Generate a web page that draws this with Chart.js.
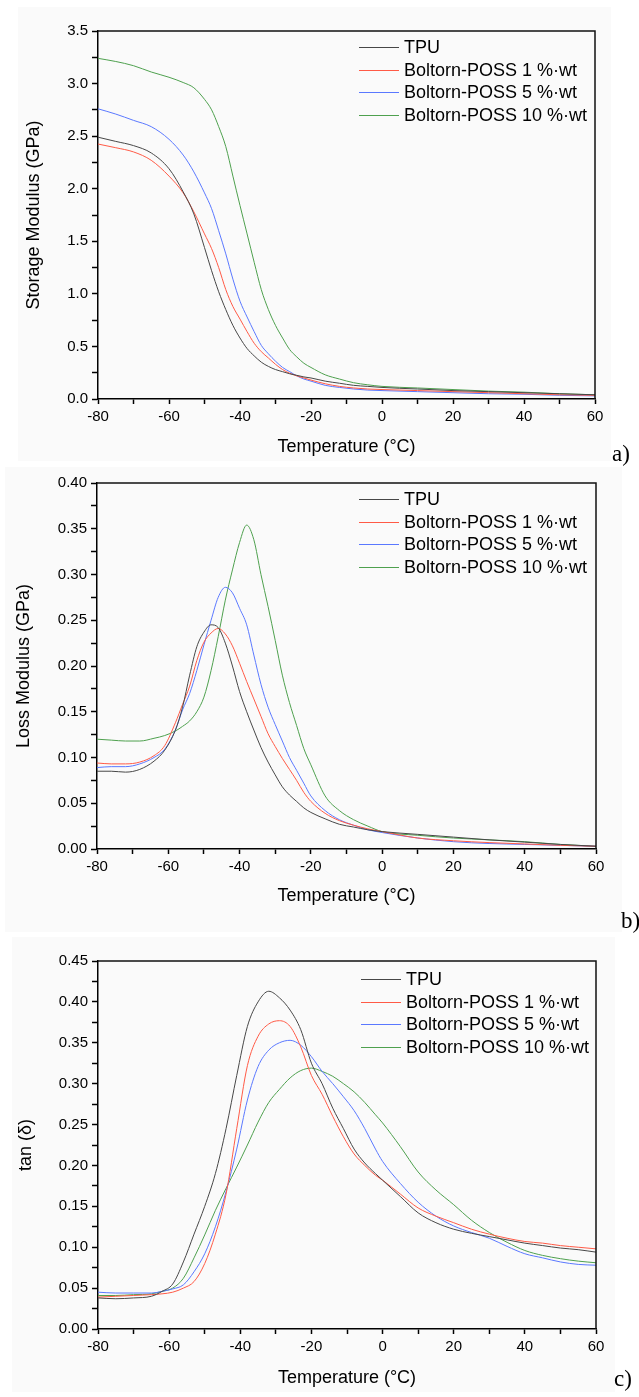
<!DOCTYPE html>
<html>
<head>
<meta charset="utf-8">
<script src="https://cdn.jsdelivr.net/npm/chart.js@4.4.0/dist/chart.umd.min.js"></script>
<style>
  body { margin: 0; background: #fff; width: 639px; height: 1397px; position: relative; overflow: hidden; }
  .panel { position: absolute; background: #fafafa; }
  .tag { position: absolute; font-family: 'Liberation Serif', 'Times New Roman', serif; font-size: 23px; line-height: 1; color: #000; }
  canvas { position: absolute; left: 0; }
</style>
</head>
<body>
<div class="panel" style="left:18px;top:7px;width:593px;height:454px"></div>
<div class="panel" style="left:5px;top:467px;width:617px;height:465px"></div>
<div class="panel" style="left:12px;top:937px;width:603px;height:455px"></div>
<canvas id="chartA" width="639" height="465" style="top:0"></canvas>
<canvas id="chartB" width="639" height="449" style="top:465px"></canvas>
<canvas id="chartC" width="639" height="461" style="top:935px"></canvas>
<div class="tag" style="left:612px;top:442px">a)</div>
<div class="tag" style="left:621px;top:909px">b)</div>
<div class="tag" style="left:614px;top:1367px">c)</div>
<script>
// series names / colours shared by the three panels
const seriesNames = ['TPU', 'Boltorn-POSS 1 %·wt', 'Boltorn-POSS 5 %·wt', 'Boltorn-POSS 10 %·wt'];
const seriesColors = ['#474747', '#ff5a46', '#5a78ff', '#4ea04e'];

// a) storage modulus (GPa)
const tempsA = [-80,-75,-70,-65,-60,-56,-53,-50,-48,-46,-44,-42,-40,-38,-36,-34,-32,-30,-28,-26,-24,-22,-20,-16,-12,-8,-4,0,10,20,30,40,50,60];
const storageTPU = [2.49,2.45,2.41,2.34,2.19,1.97,1.76,1.44,1.22,1.02,0.85,0.70,0.58,0.48,0.41,0.35,0.31,0.28,0.26,0.24,0.225,0.21,0.20,0.17,0.15,0.13,0.12,0.11,0.095,0.08,0.07,0.06,0.05,0.04];
const storageP1 = [2.425,2.39,2.35,2.27,2.12,1.96,1.78,1.57,1.43,1.25,1.04,0.88,0.76,0.64,0.53,0.45,0.39,0.33,0.28,0.245,0.22,0.20,0.18,0.145,0.12,0.105,0.095,0.09,0.08,0.07,0.06,0.05,0.04,0.035];
const storageP5 = [2.76,2.71,2.65,2.59,2.47,2.32,2.16,1.96,1.81,1.60,1.38,1.14,0.93,0.78,0.64,0.51,0.43,0.36,0.30,0.26,0.22,0.19,0.17,0.13,0.11,0.095,0.085,0.08,0.07,0.06,0.05,0.045,0.035,0.03];
const storageP10 = [3.24,3.21,3.17,3.11,3.06,3.01,2.96,2.85,2.75,2.59,2.40,2.12,1.84,1.57,1.30,1.04,0.85,0.70,0.58,0.47,0.40,0.34,0.30,0.23,0.19,0.155,0.135,0.12,0.105,0.09,0.075,0.065,0.05,0.04];

// b) loss modulus (GPa)
const tempsB = [-80,-76,-72,-68,-64,-61,-58,-56,-54,-52,-50,-48,-46,-44,-42,-40,-38,-36,-34,-32,-30,-28,-26,-24,-22,-20,-16,-12,-8,-4,0,10,20,30,40,50,60];
const lossTPU = [0.085,0.085,0.084,0.087,0.096,0.108,0.13,0.155,0.19,0.221,0.237,0.245,0.242,0.225,0.20,0.172,0.150,0.130,0.111,0.095,0.081,0.068,0.059,0.052,0.045,0.040,0.033,0.027,0.024,0.021,0.019,0.016,0.013,0.010,0.0075,0.005,0.003];
const lossP1 = [0.094,0.093,0.093,0.095,0.102,0.113,0.138,0.158,0.178,0.206,0.226,0.236,0.241,0.235,0.222,0.203,0.183,0.164,0.145,0.126,0.112,0.099,0.087,0.075,0.062,0.052,0.039,0.031,0.026,0.022,0.019,0.012,0.009,0.007,0.0055,0.004,0.003];
const lossP5 = [0.089,0.090,0.090,0.093,0.100,0.109,0.13,0.152,0.17,0.195,0.223,0.25,0.275,0.286,0.28,0.263,0.245,0.212,0.18,0.155,0.136,0.118,0.10,0.086,0.072,0.058,0.042,0.032,0.026,0.021,0.018,0.012,0.008,0.006,0.005,0.004,0.003];
const lossP10 = [0.120,0.119,0.118,0.118,0.121,0.124,0.129,0.134,0.140,0.150,0.166,0.195,0.232,0.272,0.305,0.335,0.354,0.338,0.30,0.265,0.228,0.19,0.16,0.135,0.11,0.092,0.058,0.042,0.032,0.025,0.019,0.015,0.012,0.01,0.008,0.005,0.003];

// c) tan delta
const tempsC = [-80,-75,-70,-65,-62,-59,-56,-53,-50,-47,-44,-41,-38,-35,-32,-29,-26,-23,-20,-17,-14,-11,-8,-5,-2,0,5,10,15,20,25,30,35,40,45,50,55,60];
const tanTPU = [0.038,0.037,0.038,0.040,0.046,0.055,0.082,0.116,0.150,0.190,0.245,0.31,0.37,0.40,0.413,0.405,0.39,0.366,0.325,0.30,0.27,0.245,0.22,0.203,0.19,0.182,0.162,0.142,0.13,0.122,0.117,0.113,0.109,0.105,0.102,0.099,0.097,0.094];
const tanP1 = [0.039,0.040,0.041,0.042,0.043,0.045,0.050,0.058,0.08,0.116,0.165,0.245,0.322,0.358,0.373,0.377,0.37,0.345,0.31,0.287,0.26,0.235,0.214,0.2,0.188,0.182,0.165,0.148,0.138,0.13,0.122,0.116,0.111,0.107,0.105,0.102,0.1,0.098];
const tanP5 = [0.045,0.044,0.044,0.044,0.046,0.049,0.054,0.07,0.092,0.125,0.168,0.22,0.28,0.321,0.341,0.35,0.353,0.347,0.333,0.315,0.30,0.284,0.267,0.245,0.22,0.205,0.178,0.155,0.138,0.126,0.118,0.111,0.101,0.092,0.087,0.082,0.079,0.078];
const tanP10 = [0.041,0.041,0.042,0.043,0.046,0.05,0.062,0.087,0.115,0.145,0.172,0.198,0.225,0.253,0.277,0.293,0.307,0.316,0.319,0.315,0.309,0.30,0.29,0.277,0.262,0.252,0.223,0.192,0.17,0.152,0.133,0.118,0.106,0.096,0.09,0.086,0.083,0.081];

const FONT = "'Liberation Sans', Arial, sans-serif";

// top/right frame plus the legend inside the plot
const frameLegend = {
  id: 'frameLegend',
  afterDatasetsDraw(chart, args, opts) {
    const { ctx, chartArea: a } = chart;
    ctx.save();
    ctx.strokeStyle = '#111';
    ctx.lineWidth = 1.5;
    ctx.beginPath();
    ctx.moveTo(a.left, a.top);
    ctx.lineTo(a.right, a.top);
    ctx.lineTo(a.right, a.bottom);
    ctx.stroke();

    ctx.font = '18px ' + FONT;
    ctx.textBaseline = 'middle';
    chart.data.datasets.forEach((ds, i) => {
      let y = Math.round(a.top + opts.top + i * 22.7) + 0.5;
      let x = a.left + opts.left;
      ctx.strokeStyle = ds.borderColor;
      ctx.lineWidth = 1;
      ctx.beginPath();
      ctx.moveTo(x, y);
      ctx.lineTo(x + 40, y);
      ctx.stroke();
      ctx.fillStyle = '#000';
      ctx.fillText(ds.label, x + 45, y + 1);
    });
    ctx.restore();
  }
};

function makeChart(id, temps, series, cfg) {
  let datasets = series.map((vals, i) => ({
    label: seriesNames[i],
    data: temps.map((t, j) => ({ x: t, y: vals[j] })),
    borderColor: seriesColors[i],
    borderWidth: 1,
    pointRadius: 0,
    cubicInterpolationMode: 'monotone',
    fill: false,
  }));
  let canvas = document.getElementById(id);

  return new Chart(canvas.getContext('2d'), {
    type: 'line',
    data: { datasets: datasets },
    options: {
      responsive: false,
      animation: false,
      devicePixelRatio: 1,
      layout: { padding: { top: cfg.top, right: 639 - cfg.right, left: 0, bottom: 0 } },
      plugins: {
        legend: { display: false },
        tooltip: { enabled: false },
        frameLegend: { left: cfg.legLeft, top: cfg.legTop },
      },
      scales: {
        x: {
          type: 'linear',
          min: -80,
          max: 60,
          afterFit: (s) => { s.height = cfg.xh; },
          ticks: {
            stepSize: 10,
            autoSkip: false,
            maxRotation: 0,
            padding: 4,
            color: '#000',
            font: { family: FONT, size: 15 },
            callback: (v) => (v % 20 === 0 ? String(v) : ''),
          },
          grid: { drawOnChartArea: false, tickLength: 5, tickColor: '#000', tickWidth: 1.5 },
          border: { color: '#000', width: 1.5 },
          title: {
            display: true,
            text: 'Temperature (°C)',
            color: '#000',
            font: { family: FONT, size: 18 },
            padding: { top: 0, bottom: 7 },
          },
        },
        y: {
          min: 0,
          max: cfg.ymax,
          afterFit: (s) => { s.width = cfg.left; },
          ticks: {
            stepSize: cfg.step / 2,
            autoSkip: false,
            padding: 4,
            color: '#000',
            font: { family: FONT, size: 15 },
            callback: (v) => {
              let k = v / cfg.step;
              return Math.abs(k - Math.round(k)) < 1e-6 ? v.toFixed(cfg.dec) : '';
            },
          },
          grid: { drawOnChartArea: false, tickLength: 6, tickColor: '#000', tickWidth: 1.5 },
          border: { color: '#000', width: 1.5 },
          title: {
            display: true,
            text: cfg.yTitle,
            color: '#000',
            font: { family: FONT, size: 18 },
            padding: { top: cfg.yTitlePad, bottom: 0 },
          },
        },
      },
    },
    plugins: [frameLegend],
  });
}

makeChart('chartA', tempsA, [storageTPU, storageP1, storageP5, storageP10], {
  top: 31, right: 595, left: 98, xh: 66, ymax: 3.5, step: 0.5, dec: 1,
  yTitle: 'Storage Modulus (GPa)', yTitlePad: 23, legLeft: 261, legTop: 16,
});
makeChart('chartB', tempsB, [lossTPU, lossP1, lossP5, lossP10], {
  top: 18, right: 596, left: 97, xh: 65, ymax: 0.4, step: 0.05, dec: 2,
  yTitle: 'Loss Modulus (GPa)', yTitlePad: 13, legLeft: 262, legTop: 16,
});
makeChart('chartC', tempsC, [tanTPU, tanP1, tanP5, tanP10], {
  top: 26, right: 596, left: 98, xh: 67, ymax: 0.45, step: 0.05, dec: 2,
  yTitle: 'tan (δ)', yTitlePad: 15, legLeft: 263, legTop: 18,
});
</script>
</body>
</html>
